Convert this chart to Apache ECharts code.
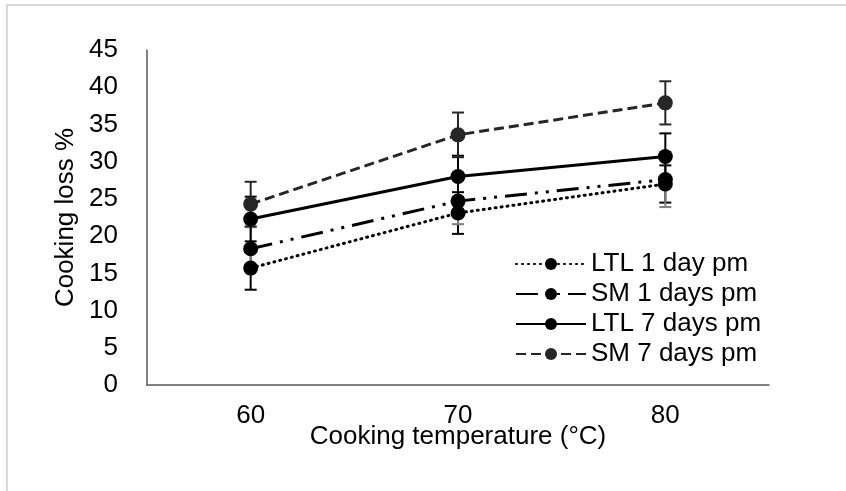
<!DOCTYPE html>
<html>
<head>
<meta charset="utf-8">
<script src="https://cdn.jsdelivr.net/npm/echarts@6/dist/echarts.min.js"></script>
<style>
  html, body { margin: 0; padding: 0; background: #fff; }
  #main { width: 846px; height: 491px; }
</style>
</head>
<body>
<div id="main"></div>
<script>
// categories and values
var temps = ['60', '70', '80'];
var yTicks = [0, 5, 10, 15, 20, 25, 30, 35, 40, 45];

var ltl1 = [15.7, 23.1, 27.0];
var ltl1Err = [2.9, 2.8, 2.5];
var sm1 = [18.3, 24.7, 27.6];
var sm1Err = [2.9, 3.1, 3.7];
var ltl7 = [22.3, 28.0, 30.7];
var ltl7Err = [3.0, 2.8, 3.1];
var sm7 = [24.3, 33.6, 37.9];
var sm7Err = [3.0, 3.0, 2.9];

var names = ['LTL 1 day pm', 'SM 1 days pm', 'LTL 7 days pm', 'SM 7 days pm'];

var FONT = '"Liberation Sans", Arial, sans-serif';
var FS = 26;

// error bar series (custom), drawn through the axis scales
function errSeries(vals, errs, color) {
  var d = [];
  for (var i = 0; i < vals.length; i++) {
    d.push([i, vals[i] - errs[i], vals[i] + errs[i]]);
  }
  return {
    type: 'custom',
    data: d,
    z: 1,
    silent: true,
    renderItem: function (params, api) {
      var lo = api.coord([api.value(0), api.value(1)]);
      var hi = api.coord([api.value(0), api.value(2)]);
      var hw = 6;
      var st = { stroke: color, lineWidth: 2 };
      return {
        type: 'group',
        children: [
          { type: 'line', shape: { x1: lo[0], y1: lo[1], x2: hi[0], y2: hi[1] }, style: st },
          { type: 'line', shape: { x1: lo[0] - hw, y1: lo[1], x2: lo[0] + hw, y2: lo[1] }, style: st },
          { type: 'line', shape: { x1: hi[0] - hw, y1: hi[1], x2: hi[0] + hw, y2: hi[1] }, style: st }
        ]
      };
    }
  };
}

function lineSeries(name, vals, color, dash, cap) {
  return {
    name: name,
    type: 'line',
    data: vals,
    z: 3,
    symbol: 'circle',
    symbolSize: 15,
    itemStyle: { color: color },
    lineStyle: { color: color, width: 3, type: dash, cap: cap || 'butt' }
  };
}

var chart = echarts.init(document.getElementById('main'));
chart.setOption({
  animation: false,
  backgroundColor: '#fff',
  graphic: [{
    type: 'rect',
    shape: { x: 7, y: 5, width: 1000, height: 1000 },
    style: { fill: 'none', stroke: '#d9d9d9', lineWidth: 2 },
    silent: true
  }],
  grid: { left: 147, right: 77, top: 50, bottom: 106 },
  legend: {
    orient: 'vertical',
    left: 510,
    top: 246,
    itemWidth: 70,
    itemHeight: 15,
    itemGap: 4,
    data: names,
    textStyle: { fontFamily: FONT, fontSize: FS, color: '#000', lineHeight: 26 }
  },
  xAxis: {
    type: 'category',
    data: temps,
    boundaryGap: true,
    name: 'Cooking temperature (°C)',
    nameLocation: 'middle',
    nameGap: 39,
    nameMoveOverlap: false,
    nameTextStyle: { fontFamily: FONT, fontSize: FS, color: '#000' },
    axisLine: { lineStyle: { color: '#595959', width: 1.5 } },
    axisTick: { show: false },
    axisLabel: { fontFamily: FONT, fontSize: FS, color: '#000', margin: 18 }
  },
  yAxis: {
    type: 'value',
    min: yTicks[0],
    max: yTicks[yTicks.length - 1],
    interval: 5,
    name: 'Cooking loss %',
    nameLocation: 'middle',
    nameGap: 68,
    nameMoveOverlap: false,
    nameTextStyle: { fontFamily: FONT, fontSize: FS, color: '#000' },
    axisLine: { show: true, lineStyle: { color: '#595959', width: 1.5 } },
    axisTick: { show: false },
    splitLine: { show: false },
    axisLabel: { fontFamily: FONT, fontSize: FS, color: '#000', margin: 29 }
  },
  series: [
    errSeries(ltl1, ltl1Err, '#000'),
    errSeries(sm1, sm1Err, '#7f7f7f'),
    errSeries(ltl7, ltl7Err, '#000'),
    errSeries(sm7, sm7Err, '#262626'),
    lineSeries(names[0], ltl1, '#000', [1, 5], 'round'),
    lineSeries(names[1], sm1, '#000', [22, 8, 3, 8, 3, 8]),
    lineSeries(names[2], ltl7, '#000', 'solid'),
    lineSeries(names[3], sm7, '#262626', [10, 5])
  ]
});
</script>
</body>
</html>
